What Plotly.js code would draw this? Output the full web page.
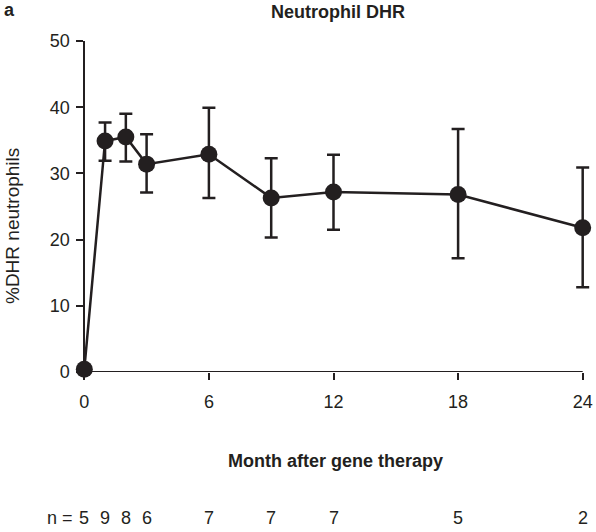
<!DOCTYPE html>
<html>
<head>
<meta charset="utf-8">
<script src="https://cdn.plot.ly/plotly-3.0.1.min.js"></script>
<style>html,body{margin:0;padding:0;background:#fff;}#chart{width:596px;height:532px;}</style>
</head>
<body>
<div id="chart"></div>
<script>
const months = [0, 1, 2, 3, 6, 9, 12, 18, 24];
const meanDHR = [0.4, 34.9, 35.5, 31.4, 32.9, 26.3, 27.2, 26.8, 21.8];
const errUpper = [0, 2.8, 3.5, 4.5, 7.0, 6.0, 5.6, 9.9, 9.1];
const errLower = [0, 3.0, 3.7, 4.3, 6.6, 6.0, 5.7, 9.6, 9.0];
const nCounts = [5, 9, 8, 6, 7, 7, 7, 5, 2];
const xTicks = [0, 6, 12, 18, 24];
const yTicks = [0, 10, 20, 30, 40, 50];

const ink = '#231f20';
const fontFam = 'Liberation Sans, Arial, sans-serif';
const xPad = 0.4;
const xRange = [xTicks[0] - xPad, xTicks[xTicks.length - 1] + xPad];
const yAxisPos = xPad / (xRange[1] - xRange[0]);

const trace = {
  x: months, y: meanDHR, type: 'scatter', mode: 'lines+markers',
  line: {color: ink, width: 2.5},
  marker: {color: ink, size: 17},
  error_y: {type: 'data', symmetric: false, array: errUpper, arrayminus: errLower,
            color: ink, thickness: 2.5, width: 6.5},
  cliponaxis: false, showlegend: false, hoverinfo: 'skip'
};

const f = (s) => ({size: s, color: ink, family: fontFam});
const annotations = [
  {text: '<b>a</b>', xref: 'paper', yref: 'paper', x: -0.144, y: 1.095, xanchor: 'left', yanchor: 'middle', showarrow: false, font: f(18)},
  {text: '<b>Neutrophil DHR</b>', xref: 'paper', yref: 'paper', x: 0.509, y: 1.087, xanchor: 'center', yanchor: 'middle', showarrow: false, font: f(18)},
  {text: '%DHR neutrophils', xref: 'paper', yref: 'paper', x: -0.123, y: 0.44, xanchor: 'center', yanchor: 'middle', textangle: -90, showarrow: false, font: f(19)},
  {text: '<b>Month after gene therapy</b>', xref: 'paper', yref: 'paper', x: 0.503, y: -0.27, xanchor: 'center', yanchor: 'middle', showarrow: false, font: f(18)},
  {text: 'n =', xref: 'paper', yref: 'paper', x: -0.002, y: -0.44, xanchor: 'right', yanchor: 'middle', showarrow: false, font: f(18)}
];
months.forEach((m, i) => {
  annotations.push({text: String(nCounts[i]), xref: 'x', yref: 'paper', x: m, y: -0.44,
    xanchor: 'center', yanchor: 'middle', showarrow: false, font: f(18)});
});

const layout = {
  width: 596, height: 532,
  margin: {l: 76, r: 5, t: 41, b: 160},
  paper_bgcolor: '#fff', plot_bgcolor: '#fff',
  font: {family: fontFam, color: ink, size: 18},
  xaxis: {range: xRange, tickvals: xTicks, ticktext: xTicks.map(String),
          showgrid: false, zeroline: false, showline: false,
          ticks: 'outside', ticklen: 7, tickwidth: 2, tickcolor: ink,
          ticklabelstandoff: 6, tickfont: f(18), fixedrange: true},
  yaxis: {range: [yTicks[0], yTicks[yTicks.length - 1]], tickvals: yTicks, ticktext: yTicks.map(String),
          anchor: 'free', position: yAxisPos,
          showgrid: false, zeroline: false, showline: true, linecolor: ink, linewidth: 2,
          ticks: 'outside', ticklen: 7, tickwidth: 2, tickcolor: ink,
          ticklabelstandoff: 3, tickfont: f(18), fixedrange: true},
  shapes: [
    {type: 'line', xref: 'x', yref: 'y', x0: xTicks[0], x1: xTicks[xTicks.length - 1], y0: 0, y1: 0,
     line: {color: ink, width: 2}, layer: 'below'}
  ],
  annotations: annotations
};

Plotly.newPlot('chart', [trace], layout, {displayModeBar: false, staticPlot: true});
</script>
</body>
</html>
